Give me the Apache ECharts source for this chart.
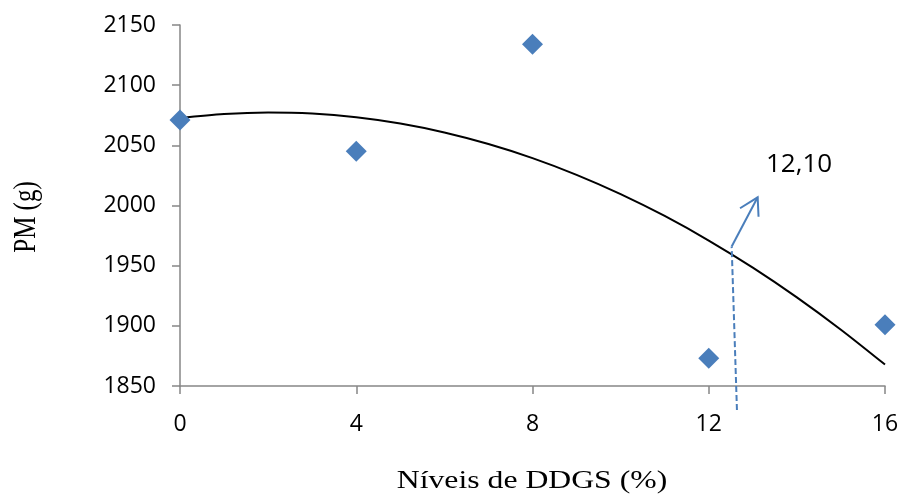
<!DOCTYPE html>
<html>
<head>
<meta charset="utf-8">
<script src="https://cdn.jsdelivr.net/npm/echarts@6/dist/echarts.min.js"></script>
<style>
  html, body { margin: 0; padding: 0; background: #fff; }
  #chart { width: 903px; height: 498px; }
</style>
</head>
<body>
<div id="chart"></div>
<script>
// measured points
var niveis = [0, 4, 8, 12, 16];
var pm = [2071, 2045, 2134, 1873, 1901];

// trend curve
var curveX = [0, 1, 2, 3, 4, 5, 6, 7, 8, 9, 10, 11, 12, 13, 14, 15, 16];
var curveY = [2072.6, 2076.0, 2077.3, 2076.4, 2073.3, 2068.1, 2060.7, 2051.1, 2039.4,
              2025.5, 2009.5, 1991.3, 1970.9, 1948.4, 1923.7, 1896.8, 1867.8];

// annotation (12,10)
var guideX = [12.64, 12.52];
var guideY = [1830, 1966];
var arrowX = [12.52, 13.11];
var arrowY = [1966, 2006.8];
var headX = [12.71, 13.11, 13.13];
var headY = [1997.7, 2006.8, 1990.7];
var annotText = '12,10';

var xTicks = [0, 4, 8, 12, 16];
var yTicks = [1850, 1900, 1950, 2000, 2050, 2100, 2150];

function pairs(xs, ys) {
    var out = [];
    for (var i = 0; i < xs.length; i++) out.push([xs[i], ys[i]]);
    return out;
}

var blue = '#4A7EBB';
var axisGray = '#868686';

var myChart = echarts.init(document.getElementById('chart'));

option = {
    backgroundColor: '#fff',
    animation: false,
    grid: {
        left: 180,
        right: 18,
        top: 25,
        bottom: 112,
        outerBoundsMode: 'none'
    },
    xAxis: {
        type: 'value',
        min: xTicks[0],
        max: xTicks[xTicks.length - 1],
        interval: 4,
        splitLine: { show: false },
        axisLine: { show: true, lineStyle: { color: axisGray, width: 1.5 } },
        axisTick: { show: true, length: 8, lineStyle: { color: axisGray, width: 1.5 } },
        axisLabel: {
            color: '#000',
            fontFamily: 'Open Sans',
            fontSize: 23,
            margin: 27,
            formatter: function (v) { return String(v); }
        }
    },
    yAxis: {
        type: 'value',
        min: yTicks[0],
        max: yTicks[yTicks.length - 1],
        interval: 50,
        splitLine: { show: false },
        axisLine: { show: true, lineStyle: { color: axisGray, width: 1.5 } },
        axisTick: { show: true, length: 8, lineStyle: { color: axisGray, width: 1.5 } },
        axisLabel: {
            color: '#000',
            fontFamily: 'Open Sans',
            fontSize: 23,
            margin: 24,
            formatter: function (v) { return String(v); }
        }
    },
    graphic: [
        {
            type: 'text',
            x: 532,
            y: 481,
            scaleX: 1.22,
            style: {
                text: 'Níveis de DDGS (%)',
                font: '26px "Liberation Serif"',
                fill: '#000',
                align: 'center',
                verticalAlign: 'middle'
            }
        },
        {
            type: 'text',
            x: 27,
            y: 217,
            rotation: Math.PI / 2,
            scaleY: 1.25,
            style: {
                text: 'PM (g)',
                font: '25px "Liberation Serif"',
                fill: '#000',
                align: 'center',
                verticalAlign: 'middle'
            }
        },
        {
            type: 'text',
            x: 766,
            y: 165,
            style: {
                text: annotText,
                font: '26px "Open Sans"',
                fill: '#000',
                align: 'left',
                verticalAlign: 'middle'
            }
        }
    ],
    series: [
        {
            type: 'line',
            data: pairs(curveX, curveY),
            smooth: 0.3,
            showSymbol: false,
            symbol: 'none',
            lineStyle: { color: '#000', width: 2 },
            z: 2
        },
        {
            type: 'line',
            data: pairs(guideX, guideY),
            symbol: 'none',
            clip: false,
            lineStyle: { color: blue, width: 2, type: [6, 3] },
            z: 3
        },
        {
            type: 'line',
            data: pairs(arrowX, arrowY),
            symbol: 'none',
            clip: false,
            lineStyle: { color: blue, width: 2 },
            z: 3
        },
        {
            type: 'line',
            data: pairs(headX, headY),
            symbol: 'none',
            clip: false,
            lineStyle: { color: blue, width: 2, join: 'miter' },
            z: 3
        },
        {
            type: 'scatter',
            data: pairs(niveis, pm),
            symbol: 'diamond',
            symbolSize: 21,
            itemStyle: { color: blue, opacity: 1 },
            z: 4
        }
    ]
};

myChart.setOption(option, true);
</script>
</body>
</html>
